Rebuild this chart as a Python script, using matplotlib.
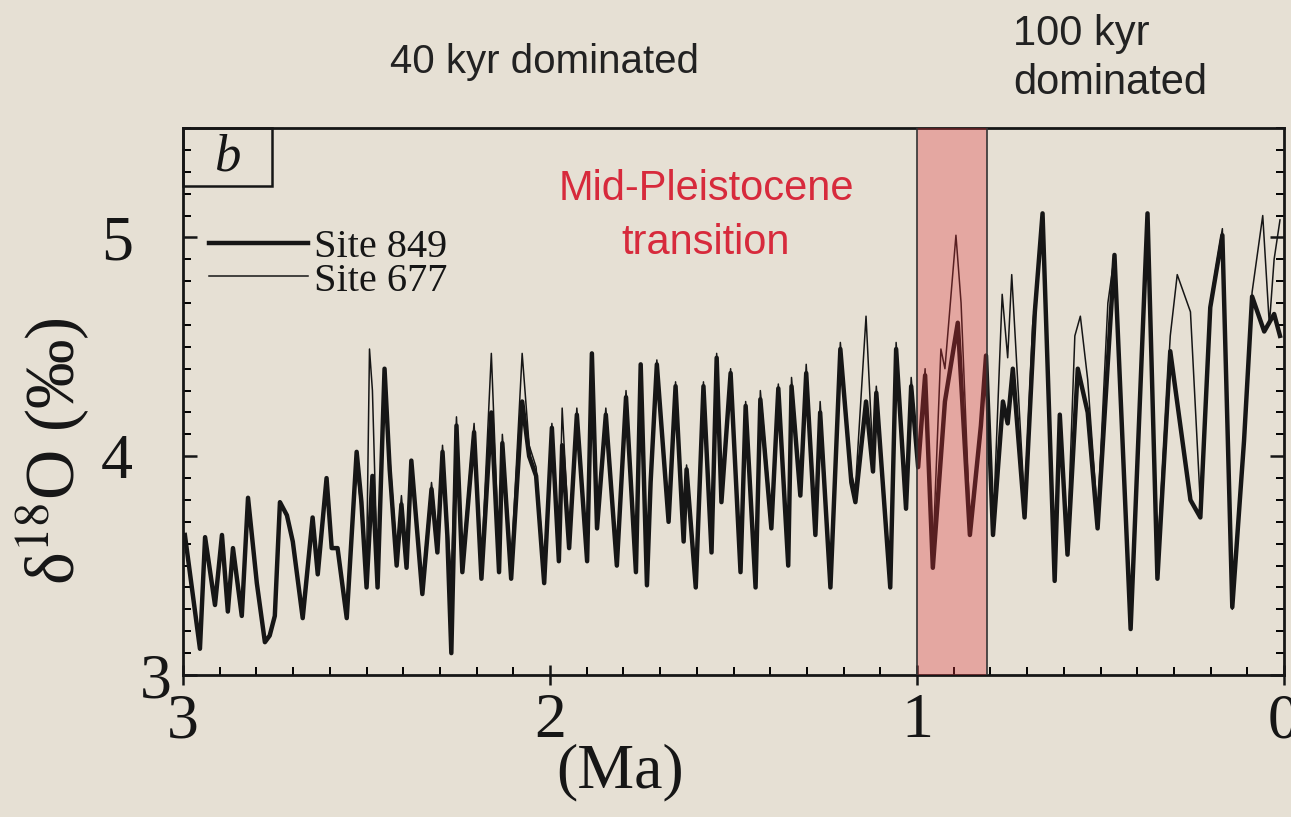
import matplotlib
matplotlib.use('Agg')
from matplotlib import pyplot as plt
from matplotlib.patches import Rectangle
from matplotlib.ticker import MultipleLocator, FixedLocator

# Site 849 (thick) - age (Ma) and d18O (permil)
age_849 = [2.995, 2.954, 2.940, 2.913, 2.894, 2.878, 2.864, 2.840, 2.823, 2.799,
           2.777, 2.764, 2.750, 2.736, 2.717, 2.701, 2.674, 2.647, 2.633, 2.609,
           2.595, 2.579, 2.554, 2.527, 2.514, 2.500, 2.484, 2.470, 2.451, 2.437,
           2.418, 2.405, 2.391, 2.378, 2.348, 2.323, 2.307, 2.293, 2.280, 2.269,
           2.255, 2.239, 2.207, 2.187, 2.160, 2.139, 2.130, 2.106, 2.076, 2.057,
           2.038, 2.016, 1.995, 1.976, 1.967, 1.948, 1.927, 1.899, 1.886, 1.872,
           1.848, 1.818, 1.793, 1.766, 1.753, 1.736, 1.726, 1.709, 1.677, 1.658,
           1.636, 1.628, 1.603, 1.582, 1.560, 1.546, 1.533, 1.508, 1.481, 1.467,
           1.440, 1.427, 1.397, 1.378, 1.351, 1.342, 1.318, 1.302, 1.277, 1.264,
           1.236, 1.209, 1.179, 1.168, 1.139, 1.120, 1.111, 1.073, 1.057, 1.030,
           1.016, 0.997, 0.978, 0.957, 0.924, 0.889, 0.856, 0.826, 0.812, 0.793,
           0.766, 0.753, 0.739, 0.707, 0.679, 0.658, 0.625, 0.611, 0.590, 0.562,
           0.535, 0.508, 0.462, 0.418, 0.372, 0.345, 0.310, 0.255, 0.228, 0.201,
           0.168, 0.141, 0.109, 0.087, 0.054, 0.027, 0.011]
d18o_849 = [3.64, 3.12, 3.63, 3.32, 3.64, 3.29, 3.58, 3.27, 3.81, 3.42,
            3.15, 3.18, 3.27, 3.79, 3.73, 3.61, 3.26, 3.72, 3.46, 3.90,
            3.58, 3.58, 3.26, 4.02, 3.79, 3.40, 3.91, 3.40, 4.40, 3.94,
            3.50, 3.78, 3.49, 3.98, 3.37, 3.85, 3.56, 4.02, 3.64, 3.10,
            4.14, 3.47, 4.11, 3.44, 4.20, 3.47, 4.06, 3.44, 4.25, 4.00,
            3.91, 3.42, 4.13, 3.52, 4.05, 3.58, 4.19, 3.52, 4.47, 3.67,
            4.19, 3.50, 4.27, 3.47, 4.42, 3.41, 3.88, 4.42, 3.70, 4.32,
            3.61, 3.94, 3.40, 4.32, 3.56, 4.45, 3.79, 4.38, 3.47, 4.23,
            3.40, 4.26, 3.67, 4.31, 3.50, 4.32, 3.82, 4.38, 3.64, 4.20,
            3.40, 4.49, 3.88, 3.79, 4.25, 3.93, 4.29, 3.40, 4.49, 3.76,
            4.32, 3.95, 4.37, 3.49, 4.25, 4.61, 3.64, 4.14, 4.46, 3.64,
            4.25, 4.15, 4.40, 3.72, 4.66, 5.11, 3.43, 4.19, 3.55, 4.40,
            4.20, 3.67, 4.92, 3.21, 5.11, 3.44, 4.48, 3.80, 3.72, 4.68,
            5.01, 3.31, 4.07, 4.73, 4.57, 4.65, 4.55]

# Site 677 (thin)
age_677 = [2.527, 2.514, 2.500, 2.492, 2.484, 2.470, 2.451, 2.437, 2.418, 2.405,
           2.391, 2.378, 2.348, 2.323, 2.307, 2.293, 2.280, 2.269, 2.255, 2.239,
           2.207, 2.187, 2.160, 2.139, 2.130, 2.106, 2.076, 2.057, 2.038, 2.016,
           1.995, 1.976, 1.967, 1.948, 1.927, 1.899, 1.886, 1.872, 1.848, 1.818,
           1.793, 1.766, 1.753, 1.736, 1.726, 1.709, 1.677, 1.658, 1.636, 1.628,
           1.603, 1.582, 1.560, 1.546, 1.533, 1.508, 1.481, 1.467, 1.440, 1.427,
           1.397, 1.378, 1.351, 1.342, 1.318, 1.302, 1.277, 1.264, 1.236, 1.209,
           1.179, 1.168, 1.139, 1.120, 1.111, 1.073, 1.057, 1.030, 1.016, 0.997,
           0.978, 0.957, 0.935, 0.924, 0.894, 0.880, 0.856, 0.826, 0.812, 0.793,
           0.768, 0.753, 0.742, 0.707, 0.685, 0.667, 0.658, 0.625, 0.611, 0.590,
           0.570, 0.555, 0.535, 0.508, 0.480, 0.462, 0.418, 0.372, 0.345, 0.310,
           0.291, 0.255, 0.228, 0.201, 0.168, 0.141, 0.109, 0.087, 0.058, 0.040,
           0.027, 0.011]
d18o_677 = [3.95, 3.75, 3.50, 4.49, 4.30, 3.45, 4.38, 4.00, 3.55, 3.82,
            3.52, 3.95, 3.42, 3.88, 3.62, 4.05, 3.70, 3.45, 4.18, 3.52,
            4.15, 3.50, 4.47, 3.55, 4.10, 3.50, 4.47, 4.05, 3.95, 3.48,
            4.15, 3.58, 4.22, 3.62, 4.22, 3.56, 4.40, 3.72, 4.22, 3.55,
            4.30, 3.52, 4.42, 3.48, 3.92, 4.44, 3.75, 4.34, 3.66, 3.96,
            3.45, 4.34, 3.60, 4.47, 3.82, 4.40, 3.52, 4.25, 3.45, 4.30,
            3.72, 4.33, 3.55, 4.36, 3.85, 4.42, 3.68, 4.25, 3.45, 4.52,
            3.92, 3.85, 4.64, 3.98, 4.32, 3.45, 4.52, 3.80, 4.36, 3.98,
            4.40, 3.55, 4.49, 4.40, 5.01, 4.70, 3.70, 4.10, 4.45, 3.66,
            4.74, 4.45, 4.83, 3.78, 4.60, 4.90, 5.08, 3.50, 4.10, 3.62,
            4.55, 4.64, 4.35, 3.72, 4.70, 4.92, 3.25, 5.08, 3.55, 4.55,
            4.83, 4.66, 3.78, 4.70, 5.04, 3.30, 4.10, 4.75, 5.10, 4.60,
            4.90, 5.08]

mpt_start = 1.0
mpt_end = 0.81

bg = '#e6e0d4'
ink = '#161616'
serif = 'Liberation Serif'
sans = 'Liberation Sans'

plt.rcParams['mathtext.fontset'] = 'stix'

fig = plt.figure(figsize=(12.91, 8.17), dpi=100, facecolor=bg)
ax = fig.add_axes([0.1418, 0.1738, 0.8528, 0.6695], facecolor=bg)

ax.plot(age_849, d18o_849, color=ink, lw=3.2, label='Site 849', zorder=2)
ax.plot(age_677, d18o_677, color=ink, lw=1.1, label='Site 677', zorder=2.5)

ax.axvspan(mpt_end, mpt_start, color='#e0333a', alpha=0.33, lw=0, zorder=3)
ax.axvline(mpt_start, color='#333333', lw=1.2, zorder=3.5)
ax.axvline(mpt_end, color='#333333', lw=1.2, zorder=3.5)

ax.set_xlim(3, 0)
ax.set_ylim(3.0, 5.5)

ax.xaxis.set_major_locator(FixedLocator([3, 2, 1, 0]))
ax.xaxis.set_minor_locator(MultipleLocator(0.1))
ax.yaxis.set_major_locator(FixedLocator([3, 4, 5]))
ax.yaxis.set_minor_locator(MultipleLocator(0.1))
ax.set_xticklabels(['3', '2', '1', '0'])
ax.set_yticklabels(['3', '4', '5'])

for s in ax.spines.values():
    s.set_linewidth(2.0)
    s.set_color(ink)

ax.tick_params(axis='x', which='major', direction='inout', length=14, width=1.8,
               pad=6, labelsize=46, colors=ink, top=False)
ax.tick_params(axis='x', which='minor', direction='in', length=6, width=1.4,
               top=False)
ax.tick_params(axis='y', which='major', direction='in', length=10, width=1.8,
               pad=36, labelsize=46, colors=ink, right=True)
ax.tick_params(axis='y', which='minor', direction='in', length=6, width=1.4,
               right=True)
for lab in ax.get_xticklabels() + ax.get_yticklabels():
    lab.set_fontfamily(serif)
# the "3" on the y axis sits close to the corner
ax.yaxis.get_major_ticks()[0].set_pad(8)

ax.set_ylabel('δ$^{18}$O (‰)', fontsize=50, family=serif, color=ink)
ax.yaxis.set_label_coords(-0.083, 0.41)
ax.set_xlabel('(Ma)', fontsize=46, family=serif, color=ink)
ax.xaxis.set_label_coords(0.397, -0.125)

# panel letter box
ax.add_patch(Rectangle((0, 0.894), 0.081, 0.106, transform=ax.transAxes,
                       fill=False, lw=1.8, ec=ink, clip_on=False, zorder=5))
ax.text(0.0405, 0.947, 'b', transform=ax.transAxes, ha='center', va='center',
        fontsize=38, family=serif, style='italic', color=ink)

leg = ax.legend(loc='upper left', bbox_to_anchor=(0.024, 0.815), frameon=False,
                prop={'family': serif, 'size': 29}, handlelength=2.45,
                handletextpad=0.15, labelspacing=-0.1, borderpad=0,
                borderaxespad=0)
for t in leg.get_texts():
    t.set_color(ink)

fig.text(0.422, 0.924, '40 kyr dominated', ha='center', va='center',
         fontsize=29, family=sans, color='#222222')
fig.text(0.785, 0.928, '100 kyr\ndominated', ha='left', va='center',
         multialignment='left', fontsize=30, family=sans, color='#222222',
         linespacing=1.3)
ax.text(0.475, 0.84, 'Mid-Pleistocene\ntransition', transform=ax.transAxes,
        ha='center', va='center', fontsize=30, family=sans, color='#d72a3c',
        linespacing=1.45)

fig.savefig('out.png', dpi=100, facecolor=bg)
